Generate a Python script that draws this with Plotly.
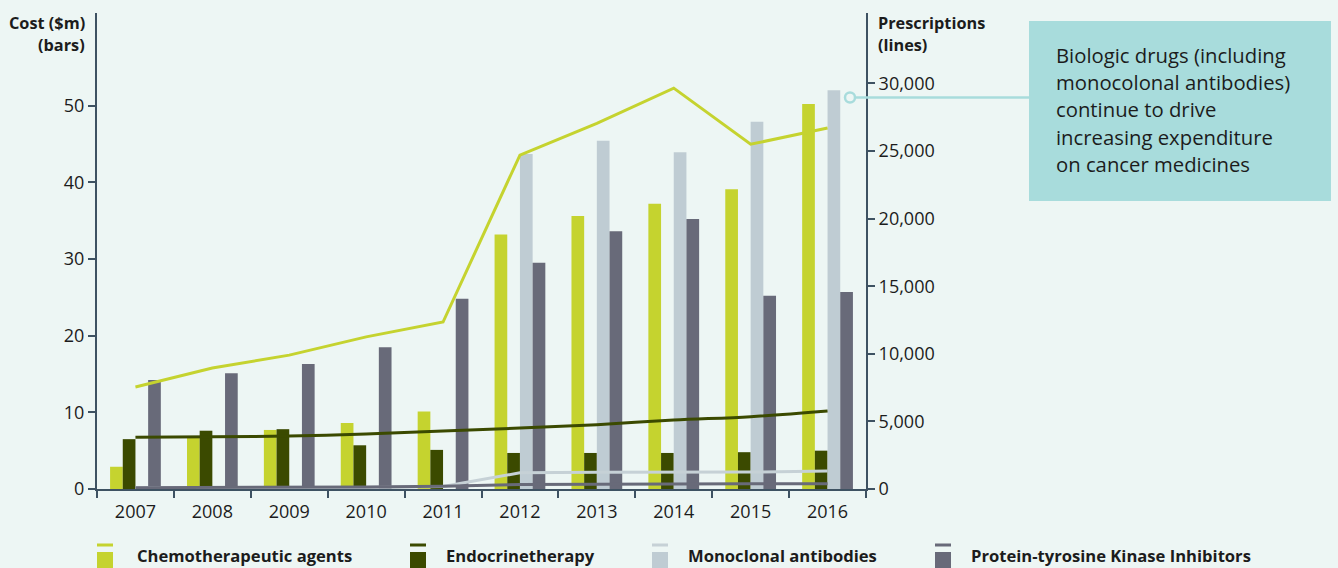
import plotly.graph_objects as go

# ---- data ----
years = ["2007", "2008", "2009", "2010", "2011", "2012", "2013", "2014", "2015", "2016"]

# cost in $m (bars, left axis)
cost_chemo = [2.9, 6.7, 7.7, 8.6, 10.1, 33.2, 35.6, 37.2, 39.1, 50.2]
cost_endo = [6.5, 7.6, 7.8, 5.7, 5.1, 4.7, 4.7, 4.7, 4.8, 5.0]
cost_mono = [None, None, None, None, None, 43.7, 45.4, 43.9, 47.9, 52.0]
cost_ptk = [14.2, 15.1, 16.3, 18.5, 24.8, 29.5, 33.6, 35.2, 25.2, 25.7]

# prescription lines (lines, right axis)
rx_chemo = [7550, 8950, 9900, 11250, 12350, 24700, 27050, 29650, 25500, 26700]
rx_endo = [3820, 3870, 3920, 4070, 4290, 4510, 4760, 5100, 5350, 5770]
rx_mono = [100, 100, 100, 110, 190, 1200, 1230, 1240, 1250, 1330]
rx_ptk = [100, 110, 120, 150, 200, 330, 350, 380, 380, 380]

series_names = ["Chemotherapeutic agents", "Endocrinetherapy",
                "Monoclonal antibodies", "Protein-tyrosine Kinase Inhibitors"]

callout_lines = ["Biologic drugs (including", "monocolonal antibodies)",
                 "continue to drive", "increasing expenditure",
                 "on cancer medicines"]

# ---- styling ----
BG = "#edf6f4"
C_CHEMO = "#c5d32f"
C_ENDO = "#3b4a00"
C_MONO = "#bfccd3"
C_MONO_LINE = "#c6d1d6"
C_PTK = "#686a79"
AXIS = "#3e5262"
TEXT = "#1c1c1c"
TEAL = "#a8dcdc"
FONT = "Open Sans"
TICK_SIZE = 18

W, H = 1338, 568
L, R, T, B = 97, 866, 13, 489  # plot area in pixels


def px(xp):
    return (xp - L) / (R - L)


def py(yp):
    return (B - yp) / (B - T)


fig = go.Figure()

for name, vals, col in [(series_names[0], cost_chemo, C_CHEMO),
                        (series_names[1], cost_endo, C_ENDO),
                        (series_names[2], cost_mono, C_MONO),
                        (series_names[3], cost_ptk, C_PTK)]:
    fig.add_trace(go.Bar(x=years, y=vals, name=name, marker_color=col,
                         marker_line_width=0, showlegend=False, yaxis="y"))

for vals, col, shape in [(rx_mono, C_MONO_LINE, "linear"),
                         (rx_ptk, C_PTK, "linear"),
                         (rx_endo, C_ENDO, "spline"),
                         (rx_chemo, C_CHEMO, "linear")]:
    fig.add_trace(go.Scatter(x=years, y=vals, mode="lines",
                             line=dict(color=col, width=3, shape=shape),
                             showlegend=False, yaxis="y2", cliponaxis=False))

shapes = []
annotations = []

# axis titles
annotations += [
    dict(text="<b>Cost ($m)</b>", x=px(87), y=py(23), xanchor="right", yanchor="middle"),
    dict(text="<b>(bars)</b>", x=px(87), y=py(45), xanchor="right", yanchor="middle"),
    dict(text="<b>Prescriptions</b>", x=px(876), y=py(23), xanchor="left", yanchor="middle"),
    dict(text="<b>(lines)</b>", x=px(876), y=py(45), xanchor="left", yanchor="middle"),
]
for a in annotations:
    a.update(xref="paper", yref="paper", showarrow=False,
             font=dict(family=FONT, size=16.3, color=TEXT))

# callout box with connector
shapes.append(dict(type="rect", xref="paper", yref="paper",
                   x0=px(1029), x1=px(1331), y0=py(21), y1=py(201),
                   fillcolor=TEAL, line=dict(width=0), layer="above"))
shapes.append(dict(type="line", xref="paper", yref="paper",
                   x0=px(855), x1=px(1029), y0=py(97.5), y1=py(97.5),
                   line=dict(color=TEAL, width=2.5), layer="above"))
shapes.append(dict(type="circle", xref="paper", yref="paper",
                   x0=px(845), x1=px(855), y0=py(102.5), y1=py(92.5),
                   fillcolor=BG, line=dict(color=TEAL, width=2.5), layer="above"))
for i, line in enumerate(callout_lines):
    annotations.append(dict(text=line, xref="paper", yref="paper",
                            x=px(1054), y=py(55 + i * 27.2), xanchor="left",
                            yanchor="middle", showarrow=False,
                            font=dict(family=FONT, size=20.3, color=TEXT)))

# legend row: short line above a square swatch, then bold label
legend_items = [(97, 135, C_CHEMO, C_CHEMO),
                (410, 444, C_ENDO, C_ENDO),
                (652, 686, C_MONO, C_MONO_LINE),
                (935, 969, C_PTK, C_PTK)]
for (sx, tx, bar_col, line_col), name in zip(legend_items, series_names):
    shapes.append(dict(type="line", xref="paper", yref="paper",
                       x0=px(sx), x1=px(sx + 16), y0=py(545), y1=py(545),
                       line=dict(color=line_col, width=3)))
    shapes.append(dict(type="rect", xref="paper", yref="paper",
                       x0=px(sx), x1=px(sx + 16), y0=py(552), y1=py(572),
                       fillcolor=bar_col, line=dict(width=0)))
    annotations.append(dict(text="<b>" + name + "</b>", xref="paper", yref="paper",
                            x=px(tx), y=py(555), xanchor="left", yanchor="middle",
                            showarrow=False,
                            font=dict(family=FONT, size=16.6, color=TEXT)))

axis_common = dict(showline=True, linecolor=AXIS, linewidth=2, ticks="outside",
                   ticklen=7, tickcolor=AXIS, tickwidth=2, showgrid=False,
                   zeroline=False,
                   tickfont=dict(family=FONT, size=TICK_SIZE, color=TEXT))

fig.update_layout(
    width=W, height=H,
    margin=dict(l=L, r=W - R, t=T, b=H - B, pad=0),
    paper_bgcolor=BG, plot_bgcolor=BG,
    barmode="group", bargap=0.34, bargroupgap=0,
    font=dict(family=FONT, size=TICK_SIZE, color=TEXT),
    xaxis=dict(type="category", tickson="boundaries", ticklabelstandoff=5,
               **axis_common),
    yaxis=dict(range=[0, 62.07], tickvals=[0, 10, 20, 30, 40, 50],
               **axis_common),
    yaxis2=dict(range=[0, 35207],
                tickvals=[0, 5000, 10000, 15000, 20000, 25000, 30000],
                tickformat=",", overlaying="y", side="right", **axis_common),
    shapes=shapes,
    annotations=annotations,
    hovermode=False,
)

fig.write_html("out.html", config=dict(displayModeBar=False))
